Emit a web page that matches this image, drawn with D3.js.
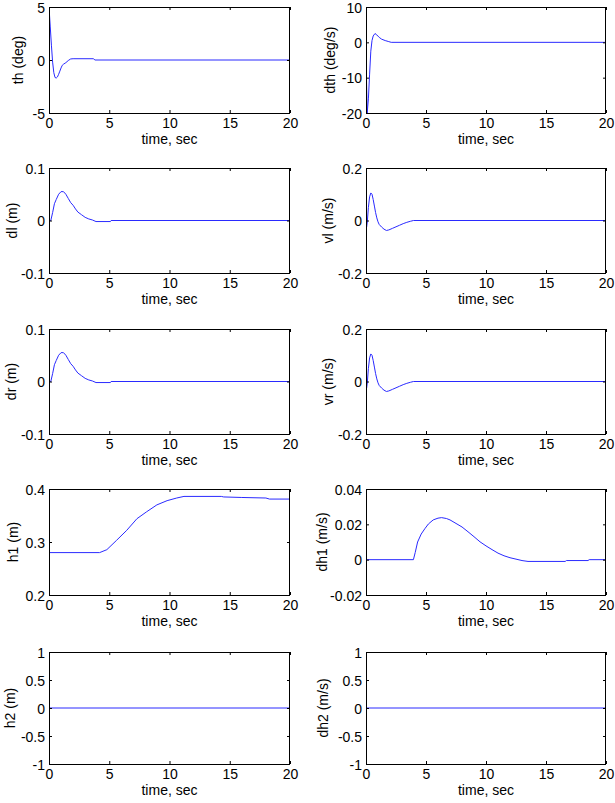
<!DOCTYPE html>
<html><head><meta charset="utf-8">
<script src="https://cdn.jsdelivr.net/npm/d3@7"></script>
<style>body{margin:0;background:#fff}svg{display:block}text{font-family:"Liberation Sans",Arial,Helvetica,sans-serif;font-size:14px;fill:#000}</style>
</head><body><svg id="c" width="615" height="803"></svg>
<script>
// ---- data ----
const xTicks = [0, 5, 10, 15, 20];
const xLabel = "time, sec";

const thData = [[0,5],[0.1,3.2],[0.2,1.4],[0.3,-0.2],[0.4,-1.2],[0.5,-1.65],[0.6,-1.7],[0.7,-1.6],[0.8,-1.35],[0.9,-1.05],[1.0,-0.75],[1.1,-0.5],[1.2,-0.4],[1.4,-0.25],[1.6,-0.05],[1.8,0.1],[2.0,0.12],[3.7,0.12],[3.8,0],[20,0]];
const dthData = [[0,0],[0.05,-12],[0.1,-20],[0.2,-16],[0.3,-9],[0.4,-2.5],[0.5,0.5],[0.6,1.8],[0.75,2.5],[0.9,2.1],[1.1,1.4],[1.3,0.9],[1.6,0.5],[1.9,0.2],[2.1,0],[20,0]];
const dlData = [[0,0],[0.15,0],[0.3,0.015],[0.45,0.032],[0.6,0.04],[0.8,0.05],[1.0,0.055],[1.2,0.055],[1.4,0.05],[1.6,0.042],[1.8,0.034],[2.0,0.029],[2.2,0.022],[2.4,0.016],[2.7,0.011],[3.0,0.006],[3.3,0.003],[3.6,0.001],[3.9,-0.002],[5.1,-0.002],[5.15,0],[20,0]];
const vlData = [[0,0],[0.05,-0.025],[0.1,-0.01],[0.2,0.05],[0.3,0.09],[0.4,0.105],[0.5,0.1],[0.6,0.08],[0.7,0.055],[0.8,0.03],[0.9,0.01],[1.0,-0.005],[1.1,-0.015],[1.3,-0.025],[1.5,-0.033],[1.7,-0.038],[1.9,-0.036],[2.2,-0.03],[2.5,-0.024],[2.8,-0.018],[3.1,-0.012],[3.4,-0.007],[3.7,-0.003],[3.95,0],[20,0]];
const drData = [[0,0],[0.15,0],[0.3,0.015],[0.45,0.032],[0.6,0.04],[0.8,0.05],[1.0,0.055],[1.2,0.055],[1.4,0.05],[1.6,0.042],[1.8,0.034],[2.0,0.029],[2.2,0.022],[2.4,0.016],[2.7,0.011],[3.0,0.006],[3.3,0.003],[3.6,0.001],[3.9,-0.002],[5.1,-0.002],[5.15,0],[20,0]];
const vrData = [[0,0],[0.05,-0.025],[0.1,-0.01],[0.2,0.05],[0.3,0.09],[0.4,0.105],[0.5,0.1],[0.6,0.08],[0.7,0.055],[0.8,0.03],[0.9,0.01],[1.0,-0.005],[1.1,-0.015],[1.3,-0.025],[1.5,-0.033],[1.7,-0.038],[1.9,-0.036],[2.2,-0.03],[2.5,-0.024],[2.8,-0.018],[3.1,-0.012],[3.4,-0.007],[3.7,-0.003],[3.95,0],[20,0]];
const h1Data = [[0,0.28],[4.2,0.28],[4.8,0.2855],[5.6,0.303],[6.45,0.322],[7.3,0.344],[8.1,0.357],[8.95,0.37],[9.8,0.378],[10.6,0.383],[11.2,0.386],[14.3,0.386],[14.5,0.385],[16,0.384],[18,0.383],[18.3,0.381],[20,0.381]];
const dh1Data = [[0,0],[3.95,0],[4.1,0.004],[4.3,0.01],[4.6,0.0145],[4.9,0.0175],[5.2,0.0202],[5.6,0.0225],[6.0,0.0235],[6.3,0.0238],[6.7,0.0233],[7.0,0.0225],[7.5,0.0205],[8.0,0.0185],[8.5,0.0158],[9.0,0.013],[9.5,0.0101],[10.0,0.0078],[10.5,0.0057],[11.0,0.0037],[11.5,0.0022],[12.0,0.0011],[12.5,0.0003],[13.0,-0.0005],[13.5,-0.001],[16.6,-0.001],[16.7,-0.0005],[18.5,-0.0005],[18.6,0],[20,0]];
const h2Data = [[0,0],[20,0]];
const dh2Data = [[0,0],[20,0]];

const thTicks = [-5, 0, 5];
const dthTicks = [-20, -10, 0, 10];
const dlTicks = [-0.1, 0, 0.1];
const vlTicks = [-0.2, 0, 0.2];
const h1Ticks = [0.2, 0.3, 0.4];
const dh1Ticks = [-0.02, 0, 0.02, 0.04];
const h2Ticks = [-1, -0.5, 0, 0.5, 1];
const dh2Ticks = [-1, -0.5, 0, 0.5, 1];

const yLabels = ["th (deg)", "dth (deg/s)", "dl (m)", "vl (m/s)", "dr (m)", "vr (m/s)", "h1 (m)", "dh1 (m/s)", "h2 (m)", "dh2 (m/s)"];

const panels = [
  {label: yLabels[0], data: thData, ticks: thTicks},
  {label: yLabels[1], data: dthData, ticks: dthTicks},
  {label: yLabels[2], data: dlData, ticks: dlTicks},
  {label: yLabels[3], data: vlData, ticks: vlTicks},
  {label: yLabels[4], data: drData, ticks: dlTicks},
  {label: yLabels[5], data: vrData, ticks: vlTicks},
  {label: yLabels[6], data: h1Data, ticks: h1Ticks},
  {label: yLabels[7], data: dh1Data, ticks: dh1Ticks},
  {label: yLabels[8], data: h2Data, ticks: h2Ticks},
  {label: yLabels[9], data: dh2Data, ticks: dh2Ticks}
];

// ---- layout (styles) ----
const colLeft = [49, 366], colRight = [290, 606];
const rowTop = [7, 168, 329, 489, 652], rowBottom = [113, 273, 434, 595, 764];
const labelOffset = [31, 36, 37, 38, 38, 38, 36, 44, 39, 43];

const svg = d3.select("#c");
const fmt = v => String(+v.toFixed(4));
const tickLen = 3;

panels.forEach((p, i) => {
  const col = i % 2, row = Math.floor(i / 2);
  const L = colLeft[col], R = colRight[col], T = rowTop[row], B = rowBottom[row];
  const x = d3.scaleLinear().domain([0, 20]).range([L, R]);
  const ext = d3.extent(p.ticks);
  const y = d3.scaleLinear().domain(ext).range([B, T]);
  const g = svg.append("g");

  const cid = "clip" + i;
  svg.append("clipPath").attr("id", cid).append("rect")
    .attr("x", L).attr("y", T).attr("width", R - L).attr("height", B - T);

  g.append("path").datum(p.data)
    .attr("clip-path", `url(#${cid})`)
    .attr("fill", "none").attr("stroke", "#2a2aff").attr("stroke-width", 1)
    .attr("d", d3.line().x(d => x(d[0])).y(d => y(d[1])));

  const axB = d3.axisBottom(x).tickValues(xTicks).tickSize(-tickLen).tickFormat(fmt);
  const axT = d3.axisTop(x).tickValues(xTicks).tickSize(-tickLen).tickFormat("");
  const axL = d3.axisLeft(y).tickValues(p.ticks).tickSize(-tickLen).tickPadding(4).tickFormat(fmt);
  const axR = d3.axisRight(y).tickValues(p.ticks).tickSize(-tickLen).tickFormat("");

  const gb = g.append("g").attr("transform", `translate(0,${B})`).call(axB);
  const gt = g.append("g").attr("transform", `translate(0,${T})`).call(axT);
  const gl = g.append("g").attr("transform", `translate(${L},0)`).call(axL);
  const gr = g.append("g").attr("transform", `translate(${R},0)`).call(axR);
  [gb, gt, gl, gr].forEach(a => {
    a.select(".domain").remove();
    a.selectAll("line").attr("stroke", "#000");
    a.selectAll("text").style("font-size", "14px").style("font-family", '"Liberation Sans",Arial,sans-serif').attr("fill", "#000");
  });
  gb.selectAll("text").attr("dy", null).attr("y", 10).attr("dominant-baseline", "central");
  gl.selectAll("text").attr("dy", null).attr("dominant-baseline", "central");

  g.append("rect").attr("x", L + 0.5).attr("y", T + 0.5).attr("width", R - L - 1).attr("height", B - T)
    .attr("fill", "none").attr("stroke", "#000").attr("stroke-width", 1);

  g.append("text").attr("x", (L + R) / 2).attr("y", B + 26).attr("text-anchor", "middle")
    .attr("dominant-baseline", "central").text(xLabel);
  const ly = (T + B) / 2, lx = L - labelOffset[i];
  g.append("text").attr("transform", `translate(${lx},${ly}) rotate(-90)`).attr("text-anchor", "middle")
    .attr("dominant-baseline", "central").text(p.label);
});
</script></body></html>
